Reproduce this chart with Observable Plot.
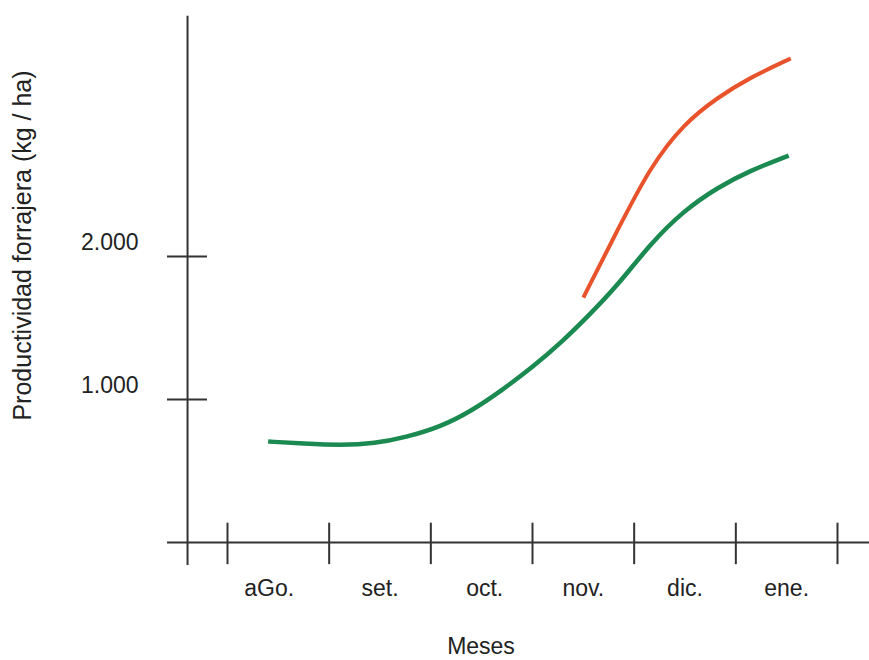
<!DOCTYPE html>
<html>
<head>
<meta charset="utf-8">
<script src="https://cdn.jsdelivr.net/npm/d3@7"></script>
<script src="https://cdn.jsdelivr.net/npm/@observablehq/plot@0.6"></script>
<style>
  html, body { margin: 0; padding: 0; background: #fff; }
  #chart svg { display: block; }
</style>
</head>
<body>
<div id="chart"></div>
<script>
// Month labels along the x axis (month index units: 0 = start of agosto)
const months = ["aGo.", "set.", "oct.", "nov.", "dic.", "ene."];
const monthCenters = [0.41, 1.5, 2.53, 3.5, 4.5, 5.5];
const monthBounds = [0, 1, 2, 3, 4, 5, 6];

// y ticks
const yTicks = [1000, 2000];
const yTickLabels = ["1.000", "2.000"];

// Green series (month position, kg/ha)
const greenMonth = [0.40, 0.75, 1.11, 1.45, 1.75, 2.10, 2.40, 2.69, 3.00, 3.30, 3.55, 3.84, 4.16, 4.49, 4.82, 5.14, 5.52];
const greenValue = [706, 692, 680, 692, 735, 810, 920, 1060, 1225, 1410, 1585, 1800, 2090, 2322, 2483, 2601, 2706];

// Orange series
const orangeMonth = [3.50, 3.84, 4.16, 4.49, 4.82, 5.14, 5.54];
const orangeValue = [1713, 2190, 2630, 2930, 3112, 3252, 3385];

const green = greenMonth.map((m, i) => ({m, v: greenValue[i]}));
const orange = orangeMonth.map((m, i) => ({m, v: orangeValue[i]}));
const monthData = months.map((t, i) => ({t, m: monthCenters[i]}));
const yTickData = yTicks.map((v, i) => ({v, t: yTickLabels[i]}));

const axisColor = "#333";
const font = "Liberation Sans, Arial, Helvetica, sans-serif";

const chart = Plot.plot({
  width: 869,
  height: 660,
  marginTop: 0, marginRight: 0, marginBottom: 0, marginLeft: 0,
  style: {fontFamily: font, fontSize: "23px", color: "#222", background: "#fff"},
  x: {type: "linear", domain: [0, 6], range: [227, 837], axis: null},
  y: {type: "linear", domain: [0, 2000], range: [542, 256], axis: null},
  marks: [
    // x axis line
    Plot.ruleY([0], {x1: -0.59, x2: 6.4, stroke: axisColor, strokeWidth: 2}),
    // y axis line
    Plot.ruleX([-0.393], {y1: -160, y2: 3680, stroke: axisColor, strokeWidth: 2}),
    // x ticks (month boundaries)
    Plot.ruleX(monthBounds, {y1: -155, y2: 135, stroke: axisColor, strokeWidth: 2}),
    // y ticks crossing axis
    Plot.ruleY(yTicks, {x1: -0.59, x2: -0.197, stroke: axisColor, strokeWidth: 2}),
    // y tick labels
    Plot.text(yTickData, {x: -0.875, y: "v", text: "t", textAnchor: "end", dy: -14, fill: "#222"}),
    // month labels
    Plot.text(monthData, {x: "m", y: 0, text: "t", dy: 46, fill: "#222"}),
    // series
    Plot.line(green, {x: "m", y: "v", stroke: "#1a8a50", strokeWidth: 4.5, curve: "basis", strokeLinecap: "butt"}),
    Plot.line(orange, {x: "m", y: "v", stroke: "#e8532b", strokeWidth: 4, curve: "basis", strokeLinecap: "butt"}),
    // axis titles
    Plot.text(["Productividad forrajera (kg / ha)"], {frameAnchor: "left", textAnchor: "middle", rotate: -90, dx: 22, dy: -85, fontSize: 25, fill: "#222"}),
    Plot.text(["Meses"], {frameAnchor: "bottom", dx: 46, dy: -7, fill: "#222"})
  ]
});
document.getElementById("chart").appendChild(chart);
</script>
</body>
</html>
